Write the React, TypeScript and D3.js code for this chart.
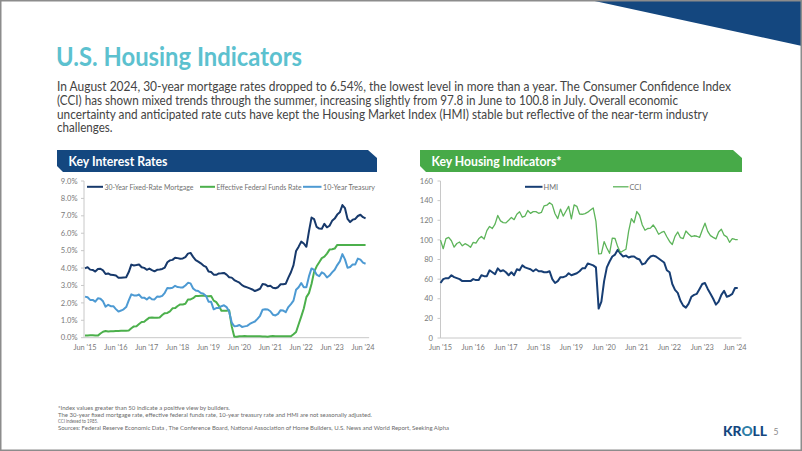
import React from "react";
import * as d3 from "d3";

// ---------- DATA (monthly, Jun 2015 .. Jul 2024) ----------
const mortgage30: number[] = [
  3.98, 4.05, 3.91, 3.89, 3.8, 3.94, 3.96,
  3.87, 3.66, 3.69, 3.61, 3.6, 3.57, 3.44, 3.44, 3.46, 3.47, 3.77, 4.2,
  4.15, 4.17, 4.2, 4.05, 4.01, 3.9, 3.97, 3.88, 3.81, 3.9, 3.92, 3.95,
  4.03, 4.33, 4.44, 4.47, 4.59, 4.57, 4.53, 4.55, 4.63, 4.83, 4.87, 4.64,
  4.46, 4.37, 4.27, 4.14, 4.07, 3.8, 3.77, 3.62, 3.61, 3.69, 3.7, 3.72,
  3.62, 3.47, 3.45, 3.31, 3.23, 3.16, 3.02, 2.94, 2.89, 2.83, 2.77, 2.68,
  2.74, 2.81, 3.08, 3.06, 2.96, 2.98, 2.87, 2.84, 2.9, 3.07, 3.07, 3.1,
  3.45, 3.76, 4.17, 4.98, 5.23, 5.52, 5.41, 5.22, 6.11, 6.9, 6.81, 6.36,
  6.27, 6.26, 6.54, 6.34, 6.43, 6.71, 6.84, 7.07, 7.2, 7.62, 7.44, 6.82,
  6.64, 6.78, 6.82, 6.99, 7.06, 6.92, 6.85,
];
const fedFunds: number[] = [
  0.13, 0.13, 0.14, 0.14, 0.12, 0.12, 0.24,
  0.34, 0.38, 0.36, 0.37, 0.37, 0.38, 0.39, 0.4, 0.4, 0.4, 0.41, 0.54,
  0.65, 0.66, 0.79, 0.9, 0.91, 1.04, 1.15, 1.16, 1.15, 1.15, 1.16, 1.3,
  1.41, 1.42, 1.51, 1.69, 1.7, 1.82, 1.91, 1.91, 1.95, 2.19, 2.2, 2.27,
  2.4, 2.4, 2.41, 2.42, 2.39, 2.38, 2.4, 2.13, 2.04, 1.83, 1.55, 1.55,
  1.55, 1.58, 0.65, 0.05, 0.05, 0.08, 0.09, 0.1, 0.09, 0.09, 0.09, 0.09,
  0.09, 0.08, 0.07, 0.07, 0.06, 0.08, 0.1, 0.09, 0.08, 0.08, 0.08, 0.08,
  0.08, 0.08, 0.2, 0.33, 0.77, 1.21, 1.68, 2.33, 2.56, 3.08, 3.78, 4.1,
  4.33, 4.57, 4.65, 4.83, 5.06, 5.08, 5.12, 5.33, 5.33, 5.33, 5.33, 5.33,
  5.33, 5.33, 5.33, 5.33, 5.33, 5.33, 5.33,
];
const treasury10: number[] = [
  2.36, 2.32, 2.17, 2.17, 2.07, 2.26, 2.24,
  2.09, 1.78, 1.89, 1.81, 1.81, 1.64, 1.5, 1.56, 1.63, 1.76, 2.14, 2.49,
  2.43, 2.42, 2.48, 2.3, 2.3, 2.19, 2.32, 2.21, 2.2, 2.36, 2.35, 2.4,
  2.58, 2.86, 2.84, 2.87, 2.98, 2.91, 2.89, 2.89, 3.0, 3.15, 3.12, 2.83,
  2.71, 2.68, 2.57, 2.53, 2.4, 2.07, 2.06, 1.63, 1.7, 1.71, 1.81, 1.86,
  1.76, 1.5, 0.87, 0.66, 0.67, 0.73, 0.62, 0.65, 0.68, 0.79, 0.87, 0.93,
  1.08, 1.26, 1.61, 1.64, 1.62, 1.52, 1.32, 1.28, 1.37, 1.58, 1.56, 1.47,
  1.76, 1.93, 2.13, 2.75, 2.9, 3.14, 2.9, 2.9, 3.52, 3.98, 3.89, 3.62,
  3.53, 3.75, 3.66, 3.46, 3.57, 3.75, 3.9, 4.17, 4.38, 4.8, 4.5, 4.02,
  4.06, 4.21, 4.21, 4.54, 4.48, 4.31, 4.25,
];
const hmi: number[] = [
  56, 60, 61, 61, 64, 62, 61,
  60, 58, 58, 58, 58, 60, 59, 59, 64, 63, 63, 69,
  67, 65, 71, 68, 69, 67, 64, 67, 64, 70, 69, 74,
  72, 71, 70, 68, 70, 68, 68, 67, 67, 68, 60, 56,
  58, 62, 62, 63, 66, 64, 65, 66, 68, 71, 71, 76,
  75, 74, 72, 30, 37, 58, 72, 78, 83, 85, 90, 86,
  83, 84, 82, 83, 83, 81, 80, 75, 76, 80, 83, 84,
  83, 81, 79, 77, 69, 67, 55, 49, 46, 38, 33, 31,
  35, 42, 44, 45, 50, 55, 56, 50, 45, 40, 34, 37,
  44, 48, 42, 43, 45, 51, 51,
];
const cci: number[] = [
  99.8, 91.0, 101.3, 102.6, 99.1, 92.6, 96.3,
  97.8, 94.0, 96.1, 94.7, 92.4, 97.4, 96.7, 101.1, 103.5, 100.8, 109.4, 113.7,
  111.6, 116.1, 124.9, 119.4, 117.6, 117.3, 120.0, 122.9, 120.6, 126.2, 128.6, 123.1,
  124.3, 130.0, 127.0, 128.8, 128.8, 127.1, 127.9, 134.7, 135.3, 137.9, 135.7, 126.6,
  121.7, 131.4, 124.2, 129.2, 134.1, 121.5, 135.7, 134.2, 126.3, 126.1, 126.8, 128.2,
  130.4, 132.6, 118.8, 85.7, 85.9, 98.3, 91.7, 86.3, 101.8, 101.4, 92.9, 87.1,
  88.9, 90.4, 109.0, 121.7, 117.5, 128.9, 125.1, 115.2, 109.8, 111.6, 111.9, 115.2,
  111.1, 105.7, 107.6, 108.6, 103.2, 98.4, 95.3, 103.6, 108.0, 102.2, 101.4, 109.0,
  106.0, 103.4, 104.2, 103.7, 102.5, 110.1, 117.0, 108.7, 104.3, 102.6, 101.0, 108.0,
  110.9, 104.8, 103.1, 97.5, 101.3, 100.4, 100.3,
];

const xTickLabels = ["Jun '15", "Jun '16", "Jun '17", "Jun '18", "Jun '19", "Jun '20", "Jun '21", "Jun '22", "Jun '23", "Jun '24"];
const xTickMonths = [0, 12, 24, 36, 48, 60, 72, 84, 96, 108];
const rateTicks = [0, 1, 2, 3, 4, 5, 6, 7, 8, 9];
const indexTicks = [0, 20, 40, 60, 80, 100, 120, 140, 160];

const rateSeriesNames = ["30-Year Fixed-Rate Mortgage", "Effective Federal Funds Rate", "10-Year Treasury"];
const indexSeriesNames = ["HMI", "CCI"];

const titleText = "U.S. Housing Indicators";
const paragraphLines = [
  "In August 2024, 30-year mortgage rates dropped to 6.54%, the lowest level in more than a year. The Consumer Confidence Index",
  "(CCI) has shown mixed trends through the summer, increasing slightly from 97.8 in June to 100.8 in July. Overall economic",
  "uncertainty and anticipated rate cuts have kept the Housing Market Index (HMI) stable but reflective of the near-term industry",
  "challenges.",
];
const footnoteLines = [
  "*Index values greater than 50 indicate a positive view by builders.",
  "The 30-year fixed mortgage rate, effective federal funds rate, 10-year treasury rate and HMI are not seasonally adjusted.",
  "CCI indexed to 1985.",
  "Sources: Federal Reserve Economic Data , The Conference Board, National Association of Home Builders, U.S. News and World Report, Seeking Alpha",
];

// ---------- STYLE ----------
const NAVY = "#14477f";
const GREEN_BANNER = "#47aa48";
const TEAL = "#5cc1cf";
const TEXT = "#444444";
const AXIS_TEXT = "#7a7a7a";
const AXIS_LINE = "#c8c8c8";
const FONT = "Lato, 'Open Sans', sans-serif";

const C_MORT = "#17396b";
const C_FED = "#4cb04c";
const C_T10 = "#4d9ad3";
const C_HMI = "#173e74";
const C_CCI = "#5db45a";

function Banner(props: { x0: number; x1: number; y0: number; y1: number; fill: string; label: string; textLen: number }) {
  const { x0, x1, y0, y1, fill, label, textLen } = props;
  const pts = [
    [x0, y0],
    [x1 - 9, y0],
    [x1, y0 + 8],
    [x1, y1],
    [x0 + 6, y1],
    [x0, y1 - 6],
  ];
  return (
    <g>
      <polygon points={pts.map((p) => p.join(",")).join(" ")} fill={fill} />
      <text
        x={x0 + 11.5}
        y={y1 - 6.5}
        fill="#fff"
        fontFamily={FONT}
        fontWeight={700}
        fontSize={12.3}
        textLength={textLen}
        lengthAdjust="spacingAndGlyphs"
      >
        {label}
      </text>
    </g>
  );
}

function RatesChart() {
  const x = d3.scaleLinear().domain([0, 108]).range([85, 363]);
  const y = d3.scaleLinear().domain([0, 9]).range([337.7, 181]);
  const line = d3
    .line<number>()
    .x((_, i) => x(i))
    .y((d) => y(d));
  const series = [
    { name: rateSeriesNames[0], data: mortgage30, color: C_MORT },
    { name: rateSeriesNames[1], data: fedFunds, color: C_FED },
    { name: rateSeriesNames[2], data: treasury10, color: C_T10 },
  ];
  const axisX = x(0) - 1;
  const axisEnd = x(110) + 1;
  const legend = [
    { x1: 87, x2: 103, tx: 104.5, tl: 89 },
    { x1: 200, x2: 215, tx: 216.5, tl: 85 },
    { x1: 303, x2: 321.5, tx: 323, tl: 52 },
  ];
  return (
    <g>
      <line x1={axisX} x2={axisX} y1={y(9)} y2={y(0)} stroke={AXIS_LINE} strokeWidth={1} />
      <line x1={axisX} x2={axisEnd} y1={y(0)} y2={y(0)} stroke={AXIS_LINE} strokeWidth={1} />
      {rateTicks.map((t) => (
        <g key={t}>
          <line x1={axisX - 3} x2={axisX} y1={y(t)} y2={y(t)} stroke={AXIS_LINE} />
          <text x={77.5} y={y(t)} dy="0.35em" textAnchor="end" fontFamily={FONT} fontSize={7.6} fill={AXIS_TEXT}>
            {t.toFixed(1) + "%"}
          </text>
        </g>
      ))}
      {xTickMonths.map((m, i) => (
        <text key={m} x={x(m)} y={349.5} textAnchor="middle" fontFamily={FONT} fontSize={7.4} fill={AXIS_TEXT}>
          {xTickLabels[i]}
        </text>
      ))}
      {series.map((s) => (
        <path key={s.name} d={line(s.data) || ""} fill="none" stroke={s.color} strokeWidth={2} strokeLinejoin="round" />
      ))}
      {series.map((s, i) => (
        <g key={"lg" + i}>
          <line x1={legend[i].x1} x2={legend[i].x2} y1={186.8} y2={186.8} stroke={s.color} strokeWidth={2} />
          <text
            x={legend[i].tx}
            y={189.5}
            fontFamily={FONT}
            fontSize={7.4}
            fill="#6f6f6f"
            textLength={legend[i].tl}
            lengthAdjust="spacingAndGlyphs"
          >
            {s.name}
          </text>
        </g>
      ))}
    </g>
  );
}

function IndexChart() {
  const x = d3.scaleLinear().domain([0, 108]).range([440.5, 735]);
  const y = d3.scaleLinear().domain([0, 160]).range([338, 181]);
  const line = d3
    .line<number>()
    .x((_, i) => x(i))
    .y((d) => y(d));
  const axisX = x(0);
  const axisEnd = x(110) + 1;
  const series = [
    { name: indexSeriesNames[0], data: hmi, color: C_HMI, w: 2 },
    { name: indexSeriesNames[1], data: cci, color: C_CCI, w: 1.3 },
  ];
  const legend = [
    { x1: 525, x2: 542.5, tx: 543.5 },
    { x1: 613, x2: 628.5, tx: 629.5 },
  ];
  return (
    <g>
      <line x1={axisX} x2={axisX} y1={y(160)} y2={y(0)} stroke={AXIS_LINE} strokeWidth={1} />
      <line x1={axisX} x2={axisEnd} y1={y(0)} y2={y(0)} stroke={AXIS_LINE} strokeWidth={1} />
      {indexTicks.map((t) => (
        <g key={t}>
          <line x1={axisX - 3} x2={axisX} y1={y(t)} y2={y(t)} stroke={AXIS_LINE} />
          <text x={433} y={y(t)} dy="0.35em" textAnchor="end" fontFamily={FONT} fontSize={7.6} fill={AXIS_TEXT}>
            {String(t)}
          </text>
        </g>
      ))}
      {xTickMonths.map((m, i) => (
        <text key={m} x={x(m)} y={349.5} textAnchor="middle" fontFamily={FONT} fontSize={7.4} fill={AXIS_TEXT}>
          {xTickLabels[i]}
        </text>
      ))}
      {series.map((s) => (
        <path key={s.name} d={line(s.data) || ""} fill="none" stroke={s.color} strokeWidth={s.w} strokeLinejoin="round" />
      ))}
      {series.map((s, i) => (
        <g key={"lg" + i}>
          <line x1={legend[i].x1} x2={legend[i].x2} y1={186.8} y2={186.8} stroke={s.color} strokeWidth={s.w} />
          <text x={legend[i].tx} y={189.5} fontFamily={FONT} fontSize={7.4} fill="#6f6f6f">
            {s.name}
          </text>
        </g>
      ))}
    </g>
  );
}

export default function App() {
  const paraLens = [674, 621, 651, 55.5];
  const footLens = [172, 314, 40, 391];
  const paraY = [91, 104.8, 118.6, 132.4];
  const footY = [410, 416.7, 423.3, 430];
  return (
    <div style={{ position: "absolute", left: 0, top: 0 }}>
      <svg width={802} height={451} viewBox="0 0 802 451" style={{ display: "block", background: "#fff" }}>
        <rect x={0} y={0} width={802} height={451} fill="#fff" />
        <polygon points="590,0 802,0 802,46" fill={NAVY} />
        <rect x={0.75} y={0.75} width={800.5} height={449.5} fill="none" stroke="#8c8c8c" strokeWidth={1.5} />

        <text
          x={56}
          y={66}
          fontFamily="Lato, Roboto, sans-serif"
          fontWeight={700}
          fontSize={26}
          fill={TEAL}
          textLength={246}
          lengthAdjust="spacingAndGlyphs"
        >
          {titleText}
        </text>
        {paragraphLines.map((l, i) => (
          <text
            key={i}
            x={57}
            y={paraY[i]}
            fontFamily={FONT}
            fontSize={12.5}
            fill={TEXT}
            textLength={paraLens[i]}
            lengthAdjust="spacingAndGlyphs"
          >
            {l}
          </text>
        ))}

        <Banner x0={57} x1={377} y0={150} y1={172} fill={NAVY} label="Key Interest Rates" textLen={99} />
        <Banner x0={420} x1={742} y0={150} y1={172} fill={GREEN_BANNER} label="Key Housing Indicators*" textLen={130} />

        <RatesChart />
        <IndexChart />

        {footnoteLines.map((l, i) => (
          <text
            key={i}
            x={58}
            y={footY[i]}
            fontFamily={FONT}
            fontSize={6.2}
            fill="#6a6a6a"
            textLength={footLens[i]}
            lengthAdjust="spacingAndGlyphs"
          >
            {l}
          </text>
        ))}

        <text x={723} y={436} fontFamily="Lato, sans-serif" fontWeight={900} fontSize={13.5} fill={NAVY} textLength={44} lengthAdjust="spacingAndGlyphs">
          KR<tspan fill="#2e7fa8">O</tspan>LL
        </text>
        <text x={773.5} y={435} fontFamily={FONT} fontSize={8.5} fill="#8a8a8a">
          5
        </text>
      </svg>
    </div>
  );
}
